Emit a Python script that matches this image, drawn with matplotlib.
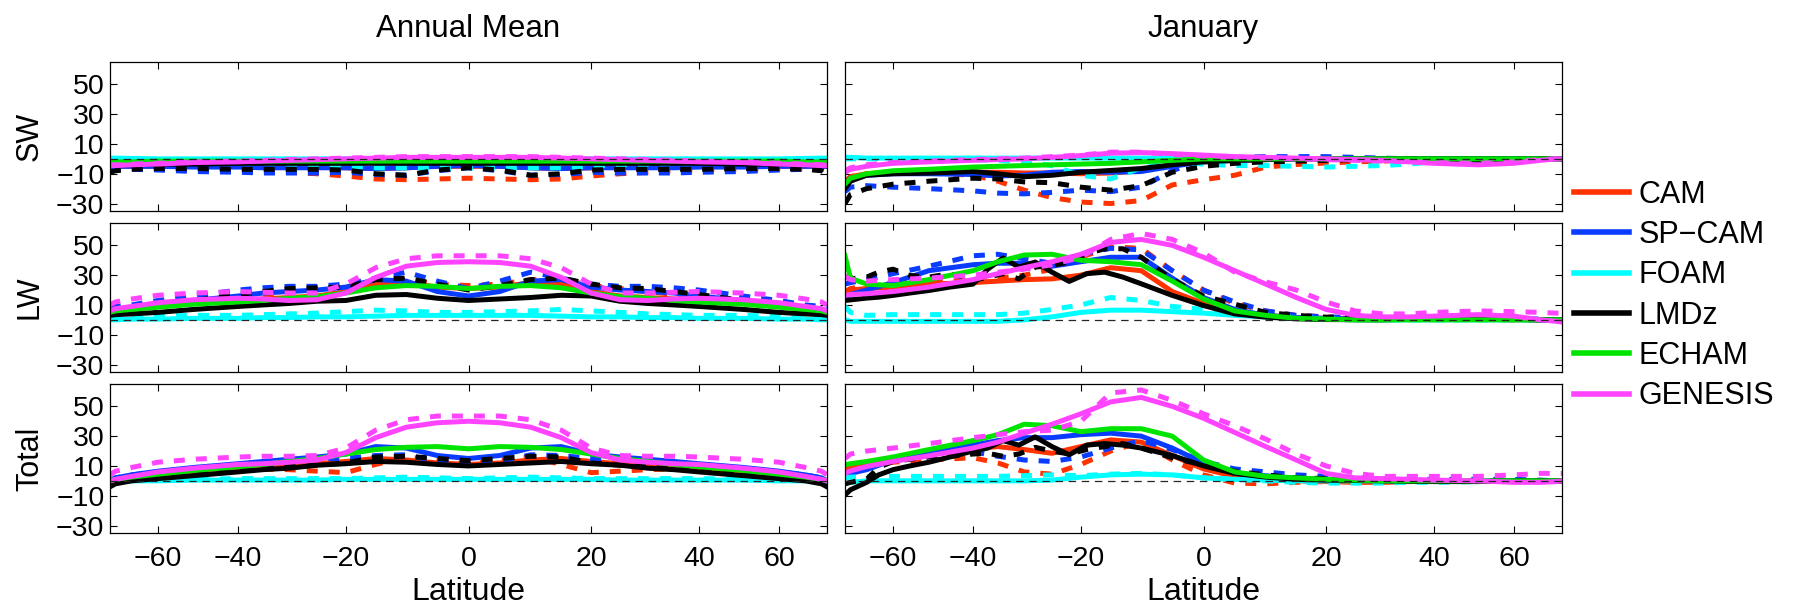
import numpy as np
import matplotlib.pyplot as plt
from matplotlib.lines import Line2D
from matplotlib.ticker import NullLocator

plt.rcParams['font.family'] = ['Liberation Sans', 'DejaVu Sans']

# latitude grid (deg) used by most curves
lat = [-90, -80, -70, -60, -50, -40, -35, -30, -25, -20, -15, -10, -5, 0,
       5, 10, 15, 20, 25, 30, 35, 40, 50, 60, 70, 80, 90]
# finer grid for the noisy LMDz January curves
lat_lmdz = [-90, -80, -70, -65, -60, -55, -50, -45, -40, -37, -34, -31, -28,
            -25, -22, -19, -16, -13, -10, -5, 0, 5, 10, 15, 20, 30, 40, 50,
            60, 70, 80, 90]

models = ['CAM', 'SP-CAM', 'FOAM', 'LMDz', 'ECHAM', 'GENESIS']
legend_labels = ['CAM', 'SP\u2212CAM', 'FOAM', 'LMDz', 'ECHAM', 'GENESIS']
colors = ['#ff3300', '#0a3cff', '#00ffff', '#000000', '#00e400', '#ff44ff']

# ---- Annual mean, SW ----
ann_sw = {
    'CAM': [-5, -5, -5, -5, -5, -5, -5, -5, -5.5, -6, -6.5, -6, -5, -5, -5, -6, -6.5, -6, -5.5, -5, -5, -5, -5, -5, -5, -5, -5],
    'SP-CAM': [-5, -5, -5, -5, -5.5, -5.5, -6, -6, -6, -6, -6.5, -6, -5, -4.5, -5, -6, -6.5, -6, -6, -6, -6, -5.5, -5.5, -5, -5, -5, -5],
    'FOAM': [0.5, 0.5, 0.3, 0, 0, 0, 0, 0, 0, 0, 0, 0, 0, 0, 0, 0, 0, 0, 0, 0, 0, 0, 0, 0, 0.3, 0.5, 0.5],
    'LMDz': [-4, -4, -4, -3.5, -3.5, -3, -3, -3, -3, -3, -3, -3, -3, -3, -3, -3, -3, -3, -3, -3, -3, -3, -3.5, -3.5, -4, -4, -4],
    'ECHAM': [-2, -2, -2, -1.5, -1.5, -1.5, -1.5, -1.5, -1.5, -1.5, -1.5, -1.5, -1.5, -1.5, -1.5, -1.5, -1.5, -1.5, -1.5, -1.5, -1.5, -1.5, -1.5, -1.5, -2, -2, -2],
    'GENESIS': [-4.5, -4.5, -4, -3.5, -2.5, -2, -1.5, -1, -0.5, 0, 0.5, 1, 1, 1, 1, 1, 0.5, 0, -0.5, -1, -1.5, -2, -2.5, -3.5, -4, -4.5, -4.5],
}
ann_sw_d = {
    'CAM': [-6, -6, -6, -6.5, -7, -7.5, -8, -9, -10, -11.5, -13.5, -14, -13.5, -13, -13.5, -14, -13.5, -11.5, -10, -9, -8, -7.5, -7, -6.5, -6, -6, -6],
    'SP-CAM': [-7, -7, -7, -7.5, -8.5, -9, -9.5, -9.5, -9.5, -9, -10.5, -11, -8, -6, -8, -11, -10.5, -9, -9.5, -9.5, -9.5, -9, -8.5, -7.5, -7, -7, -7],
    'FOAM': [-0.5, -0.5, -1, -1.5, -2, -2.5, -3, -3.5, -4, -5, -6, -6, -6, -6, -6, -6, -6, -5, -4, -3.5, -3, -2.5, -2, -1.5, -1, -0.5, -0.5],
    'LMDz': [-9, -8, -7, -6.5, -6.5, -7, -7, -7, -7, -7.5, -10, -11, -7.5, -6, -7.5, -11, -10, -7.5, -7, -7, -7, -7, -6.5, -6.5, -7, -8, -9.5],
    'GENESIS': [-4, -4, -3.5, -3, -2, -1.5, -1, -0.5, 0, 0.5, 1, 1.5, 1.5, 1.5, 1.5, 1.5, 1, 0.5, 0, -0.5, -1, -1.5, -2, -3, -3.5, -4, -4],
}

# ---- Annual mean, LW ----
ann_lw = {
    'CAM': [5, 6, 7, 9, 11, 13, 14, 15, 16, 19, 24, 25, 22, 21, 22, 25, 24, 19, 16, 15, 14, 13, 11, 9, 7, 6, 5],
    'SP-CAM': [6, 7, 8, 10, 13, 16, 18, 19, 20, 22, 27, 26, 19, 16, 19, 26, 27, 22, 20, 19, 18, 16, 13, 10, 8, 7, 6],
    'FOAM': [0, 0, 0.5, 0.5, 1, 1, 1.5, 1.5, 2, 2, 2.5, 3, 3, 3, 3, 3, 2.5, 2, 2, 1.5, 1.5, 1, 1, 0.5, 0.5, 0, 0],
    'LMDz': [3, 3.5, 4, 5, 7, 9, 10, 11, 12.5, 13, 16.5, 17, 14.5, 13, 14, 15, 16.5, 16, 12.5, 11, 10, 9, 7, 5, 4, 3.5, 3],
    'ECHAM': [5, 6, 7, 8.5, 10.5, 12, 13, 14.5, 15.5, 18, 21.5, 23, 22.5, 21, 22.5, 23, 21.5, 18, 15.5, 14.5, 13, 12, 10.5, 8.5, 7, 6, 5],
    'GENESIS': [6, 7.5, 9, 11.5, 13.5, 14.5, 14, 13, 13.5, 18, 28.5, 36, 38.5, 39, 38.5, 36, 28.5, 18, 13.5, 13, 14, 14.5, 13.5, 11.5, 9, 7.5, 6],
}
ann_lw_d = {
    'CAM': [6, 7, 8, 10, 12, 15, 17, 19, 21, 23, 27, 27, 24, 23, 24, 27, 27, 23, 21, 19, 17, 15, 12, 10, 8, 7, 6],
    'SP-CAM': [8, 9, 10, 13, 16, 20, 21.5, 22.5, 22.5, 24, 28, 32, 26, 21, 26, 32, 28, 24, 22.5, 22.5, 21.5, 20, 16, 13, 10, 9, 8],
    'FOAM': [1, 1.5, 2, 2.5, 3, 3, 3.5, 4, 4.5, 5.5, 6.5, 6, 5, 5, 5.5, 6, 7, 6, 5, 4, 3.5, 3, 3, 2.5, 2, 1.5, 1],
    'LMDz': [6, 7, 8, 10, 13, 17, 19, 21, 21.5, 22, 27, 28, 24, 20, 23, 27, 28, 24, 21.5, 21, 19, 17, 13, 10, 8, 7, 6],
    'GENESIS': [10, 12, 14, 16.5, 18, 19, 18.5, 18, 18, 24, 35, 41, 43, 43, 43, 41, 35, 24, 18, 18, 18.5, 19, 18, 16.5, 14, 12, 10],
}

# ---- Annual mean, Total ----
ann_tot = {
    'CAM': [-2, 0, 1.5, 3.5, 6, 8.5, 9.5, 10.5, 11.5, 13, 15, 14, 12, 11, 12, 14, 15, 13, 11.5, 10.5, 9.5, 8.5, 6, 3.5, 1.5, 0, -2],
    'SP-CAM': [0, 2, 4, 6.5, 9, 11.5, 13, 14.5, 16, 18, 23, 22, 17, 15, 17, 22, 23, 18, 16, 14.5, 13, 11.5, 9, 6.5, 4, 2, 0],
    'FOAM': [-1, -0.5, 0, 0, 0.5, 0.5, 0.5, 0.5, 0.5, 1, 1, 1, 1, 1, 1, 1, 1, 1, 0.5, 0.5, 0.5, 0.5, 0.5, 0, 0, -0.5, -1],
    'LMDz': [-4, -2, 0, 1.5, 3.5, 6, 7.5, 8.5, 10.5, 11.5, 13, 12.5, 11, 10, 11, 12, 13, 11.5, 10.5, 8.5, 7.5, 6, 3.5, 1.5, 0, -2, -4],
    'ECHAM': [0, 1, 2.5, 4.5, 7, 9.5, 11, 13, 15, 18, 21, 22.5, 23, 21.5, 23, 22.5, 21, 18, 15, 13, 11, 9.5, 7, 4.5, 2.5, 1, 0],
    'GENESIS': [0, 1, 3, 6, 8.5, 11, 11.5, 12.5, 14, 19, 29, 36, 39, 40, 39, 36, 29, 19, 14, 12.5, 11.5, 11, 8.5, 6, 3, 1, 0],
}
ann_tot_d = {
    'CAM': [-1, 1, 2.5, 4, 6, 8, 8, 7.5, 6.5, 5.5, 11, 16, 14, 11, 14, 16, 11, 5.5, 6.5, 7.5, 8, 8, 6, 4, 2.5, 1, -1],
    'SP-CAM': [0, 2, 4, 6, 8.5, 11, 12.5, 14, 15, 15, 17, 17.5, 13, 11, 13, 17.5, 17, 15, 15, 14, 12.5, 11, 8.5, 6, 4, 2, 0],
    'FOAM': [0, 0.5, 1, 1, 1, 1.5, 1.5, 1.5, 1.5, 1.5, 2, 2.5, 2, 1.5, 2, 2.5, 2, 1.5, 1.5, 1.5, 1.5, 1.5, 1, 1, 1, 0.5, 0],
    'LMDz': [-2, 0, 2, 3.5, 5.5, 7, 8, 9.5, 10.5, 12, 16, 16.5, 15, 13.5, 15, 16.5, 16, 12, 10.5, 9.5, 8, 7, 5.5, 3.5, 2, 0, -2],
    'GENESIS': [4, 6.5, 9, 12.5, 14.5, 16, 16.5, 16.5, 17, 22, 34, 41, 43.5, 43.5, 43.5, 41, 34, 22, 17, 16.5, 16.5, 16, 14.5, 12.5, 9, 6.5, 4],
}

# ---- January, SW ----
jan_sw = {
    'CAM': [-17, -12, -10, -9.5, -9, -9, -9, -9.5, -9.5, -10, -9.5, -8, -4, -2, -1, -0.5, 0, 0, 0, 0, 0, 0, 0, 0, 0, 0, 0],
    'SP-CAM': [-17, -13, -11, -10, -10, -10.5, -11.5, -11, -9, -8.5, -9, -8.5, -5, -2, -1, -0.5, 0, 0, 0, 0, 0, 0, 0, 0, 0, 0, 0],
    'FOAM': [1, 1, 0.5, 0.5, 0.5, 0.5, 0.5, 0.5, 0.5, 0.5, 0.5, 0.5, 0.5, 0.5, 0, 0, 0, 0, 0, 0, 0, 0, 0, 0, 0, 0, 0],
    'LMDz': [-20, -15, -11, -10, -9.5, -8.5, -10, -12, -11, -9, -7.8, -6.5, -4, -2, -1, -0.5, 0, 0, 0, 0, 0, 0, 0, 0, 0, 0, 0],
    'ECHAM': [-17, -13, -10, -8, -7, -5.5, -5, -4.5, -4, -3.5, -3, -2, -1, 0, 0, 0, 0, 0, 0, 0, 0, 0, 0, 0, 0, 0, 0],
    'GENESIS': [-9, -7, -5, -3, -2, -1, -0.5, 0, 1, 2.2, 3.8, 4.2, 3.5, 2.5, 1.5, 1, 0.5, 0, -0.5, -1, -2, -3, -4, -3, -1, 0, 0],
}
jan_sw_d = {
    'CAM': [-15, -12, -10, -9, -9.5, -11, -15, -21, -26, -29, -30, -28, -17.5, -14, -11, -5.5, -3.8, -2.8, -2, -1.5, -1, -1, -0.5, -0.5, 0, 0, 0],
    'SP-CAM': [-22, -19, -18, -19, -20, -21.5, -23, -23.5, -22.5, -21, -22, -19, -8, -0.5, 1, 1.5, 1.5, 1.5, 1, 0.5, 0, -0.5, -1, -0.5, 0, 0, 0],
    'FOAM': [0, 0, 0, 0, 0, -0.5, -1, -2, -4.5, -11, -13.5, -6, -2.2, -3.5, -4.5, -4.5, -5, -5.5, -5, -4.5, -3.5, -2, -1, -0.5, 0, 0, 0],
    'LMDz': [-30, -24, -20, -17, -15, -13, -13.5, -15.5, -16, -19, -21, -18, -9, -5, -3, -2, -1.5, -1, -0.5, -0.5, 0, -0.5, -1, -1, 0, 0, 0],
    'GENESIS': [-8, -6, -4, -2.5, -1.5, -0.5, 0, 0.5, 1.5, 2.5, 4.5, 4.5, 3, 2, 1, 0.5, 0, -0.5, -1, -1.5, -2, -2.5, -3, -2, -0.5, 0, 0],
}

# ---- January, LW ----
jan_lw = {
    'CAM': [19, 20, 21, 22, 24, 25, 26, 27, 27.5, 30, 35, 33, 19, 11, 6, 3, 1.5, 1, 0.5, 0.5, 0.5, 0.5, 0.5, 0, 0, 0, 0],
    'SP-CAM': [15, 17, 20, 25, 33, 37, 38, 38, 36, 39, 42, 42, 28, 15, 7, 3, 1.5, 1, 0.5, 0.5, 0.5, 0.5, 0.5, 0.5, 0, 0, 0],
    'FOAM': [0, -1, -1, -1, -1, -1, -1, 0, 2, 5, 6.5, 6.5, 5.5, 4.5, 3, 2, 1, 0.5, 0, 0, 0, 0, 0, 0, 0, 0, 0],
    'ECHAM': [43, 28, 24, 23, 27, 33, 39, 43.5, 44, 40, 39, 37, 26, 14, 6, 3, 1, 0.5, 0, 0, 0, 0, 0, 0, 0, 0, 0],
    'GENESIS': [16.5, 17, 17.5, 19, 22, 27, 31, 35, 39, 44, 52, 54, 50, 42, 33, 24, 15, 7, 3, 2, 2, 2.5, 3.5, 2.5, 0, -1, -1.5],
}
jan_lw_d = {
    'CAM': [19, 21, 23, 25, 26, 27, 28, 30, 34, 42, 49, 48, 33, 20, 11, 6, 3, 2, 1, 0.5, 0.5, 0.5, 0.5, 0, 0, 0, 0],
    'SP-CAM': [24, 25, 27, 31, 36, 43, 44, 41, 38, 44, 48, 47, 33, 20, 12, 6, 3, 2, 1.5, 1.5, 1.5, 1.5, 1, 1, 0.5, 0, 0],
    'FOAM': [9, 5, 3, 3.5, 3.5, 3.5, 3.5, 4.5, 7, 10, 15, 13, 9, 7, 5, 3.5, 2, 1.5, 0.5, 0, 0, 0, 0, 0, 0, 0, 0],
    'GENESIS': [29, 27, 26, 27, 28, 30, 32, 34, 37, 42, 54, 58, 54, 45, 32, 25.5, 20, 12, 6, 4, 4, 5, 6, 5.5, 5, 4.5, 4.5],
}
jan_lw_lmdz = [13, 13.4, 14.6, 15.2, 16.4, 18, 19.7, 22, 24, 34, 41.5, 35.4, 38.8, 32, 25.8, 31,
               32, 28.7, 24.2, 16.4, 9.6, 4, 1.8, 0.7, 0.2, 0, 1, 1, 0.5, 0, 0, 0]
jan_lw_lmdz_d = [29, 27.5, 28.7, 32, 34, 29.8, 28.7, 31, 26.4, 28.7, 31, 27.5, 35.4, 36.5, 38.8, 44.4,
                 47.7, 47.7, 42, 27, 16, 10.5, 5, 3, 1.8, 1, 1, 1, 0.5, 0, 0, 0]

# ---- January, Total ----
jan_tot = {
    'CAM': [7, 9, 11, 14, 18, 21.5, 23, 21, 18.5, 23, 27.5, 26, 17, 8, 3, 1, 0, -0.5, -1, -1, -0.5, 0, 0, 0, 0, 0, 0],
    'SP-CAM': [3, 5, 7.5, 14, 19, 24, 27, 29, 29, 31, 32, 30, 22, 12, 5, 3.4, 1.8, 1, 0.5, 0, 0, 0, 0, 0, 0, 0, 0],
    'FOAM': [-2, -1, 0, 0, 0, 0, 0, 0, 0.5, 2.5, 4, 4.5, 4, 2, 1, 0.5, 0, 0, 0, 0, 0, 0, 0, 0, 0, 0, 0],
    'ECHAM': [10.8, 11.5, 13, 16, 21, 27, 31, 38, 37, 33, 35, 35, 30, 14, 6, 3, 2, 1, 0.5, 0, 0, 0, 0, 0, 0, 0, 0],
    'GENESIS': [5, 6.7, 9.6, 13, 16.8, 22, 26, 32, 38, 45, 53, 56, 50, 42, 32.5, 23, 14, 5, 2, 1.5, 1, 0.5, 0, -1, -1, -0.5, 0],
}
jan_tot_d = {
    'CAM': [8, 9, 10, 12.5, 14, 15.5, 12, 6, 4.5, 11, 20, 26, 14, 4, -1.5, -2, -1, -0.5, 0, 0, 0, 0, 0, 0, 0, 0, 0],
    'SP-CAM': [3, 5, 8, 15, 18, 19.5, 16.5, 14, 13, 16, 22, 27, 21, 13, 8, 6, 4, 3, 2, 1.5, 1, 1, 1, 1, 0.5, 0, 0],
    'FOAM': [2, 2.5, 3, 3, 3, 3, 3, 3.5, 4, 3.5, 4.5, 5, 4, 2, 1, 0, -1, -1.5, -1.5, -1.5, -1, -1, -0.5, 0, 0, 0, 0],
    'GENESIS': [15, 18, 20, 22, 25, 29, 31, 33, 34, 40, 59, 61, 54, 45, 37, 28, 18, 10, 5, 3, 3, 3, 3, 4, 5, 5, 5],
}
jan_tot_lmdz = [-9.5, -6, -1, 4, 7.5, 10, 12.5, 16, 20, 22, 27, 24, 29.5, 23, 17.5, 24,
                25, 24, 22, 17, 10, 5, 2.5, 1, 0.5, 0, -0.5, -0.5, 0, 0, 0, 0]
jan_tot_lmdz_d = [-2, -1, 1, 9, 13, 14.5, 16, 16.5, 18, 18.5, 16.5, 18, 22.5, 20, 18, 21,
                  23, 25, 22, 15.5, 10.5, 6.5, 4, 2, 1.5, 0.5, 0, 0, 0, 0, 0, 0]

jan_lw['LMDz'] = jan_lw_lmdz
jan_lw_d['LMDz'] = jan_lw_lmdz_d
jan_tot['LMDz'] = jan_tot_lmdz
jan_tot_d['LMDz'] = jan_tot_lmdz_d

panels = [
    [(ann_sw, ann_sw_d, False), (jan_sw, jan_sw_d, False)],
    [(ann_lw, ann_lw_d, False), (jan_lw, jan_lw_d, True)],
    [(ann_tot, ann_tot_d, False), (jan_tot, jan_tot_d, True)],
]
row_names = ['SW', 'LW', 'Total']
col_names = ['Annual Mean', 'January']


# x axis is area-weighted: linear in sin(latitude)
def fwd(x):
    return np.sin(np.deg2rad(x))


def inv(y):
    return np.rad2deg(np.arcsin(np.clip(y, -1, 1)))


W, H = 1793, 605
fig = plt.figure(figsize=(W / 100, H / 100), dpi=100)

col_left = [110, 845]
row_top = [62, 223, 384]
ax_w, ax_h = 717, 149

LW = 3.6
DASH = (0, (2.2, 2.2))

for r in range(3):
    for c in range(2):
        ax = fig.add_axes([col_left[c] / W, 1 - (row_top[r] + ax_h) / H, ax_w / W, ax_h / H])
        solid, dashed, lmdz_fine = panels[r][c]
        for m, col in zip(models, colors):
            x = lat_lmdz if (m == 'LMDz' and lmdz_fine) else lat
            ax.plot(x, solid[m], color=col, lw=LW)
            if m in dashed:
                ax.plot(x, dashed[m], color=col, lw=LW, ls=DASH)
        ax.axhline(0, color='0.15', lw=0.9, ls=(0, (6, 4.5)), zorder=5)

        ax.set_xscale('function', functions=(fwd, inv))
        ax.set_xlim(-90, 90)
        ax.set_ylim(-35, 65)
        ax.set_xticks([-60, -40, -20, 0, 20, 40, 60])
        ax.set_yticks([-30, -10, 10, 30, 50])
        ax.xaxis.set_minor_locator(NullLocator())
        ax.yaxis.set_minor_locator(NullLocator())
        ax.tick_params(direction='in', top=True, right=True, length=5, width=0.8,
                       labelsize=20.5)
        ax.tick_params(axis='x', pad=9)
        ax.tick_params(axis='y', pad=4)
        for s in ax.spines.values():
            s.set_linewidth(0.9)

        if c == 0:
            ax.set_ylabel(row_names[r], fontsize=22, labelpad=8)
        else:
            ax.tick_params(labelleft=False)
        if r < 2:
            ax.tick_params(labelbottom=False)
        else:
            ax.set_xlabel('Latitude', fontsize=23, labelpad=4)
        if r == 0:
            ax.set_title(col_names[c], fontsize=22.5, pad=18)

handles = [Line2D([], [], color=col, lw=4) for col in colors]
fig.legend(handles, legend_labels, loc='center left', bbox_to_anchor=(1574 / W, 1 - 295.5 / H),
           frameon=False, fontsize=22, handlelength=1.8, handletextpad=0.3,
           labelspacing=0.34, borderpad=0, borderaxespad=0)

fig.savefig('out.png', dpi=100)
